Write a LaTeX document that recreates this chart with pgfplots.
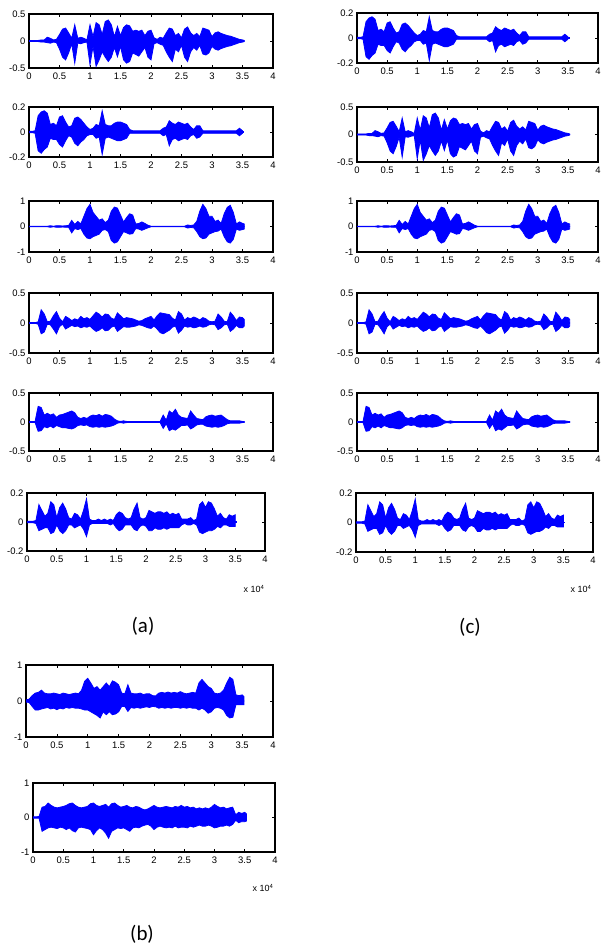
\documentclass[border=0pt]{standalone}
\usepackage{pgfplots}
\pgfplotsset{compat=1.18}
\usepackage{pgfplotstable}
\usepackage{fontspec}
\setmainfont{Liberation Sans}
\newfontfamily\capfont{Carlito}

% envelope of each waveform: x (x 10^4 samples), upper and lower excursion
\pgfplotstableread{
x hi lo
0.00 0.01 -0.01
0.05 0.01 -0.01
0.10 0.01 -0.01
0.15 0.01 -0.01
0.20 0.02 -0.02
0.25 0.02 -0.02
0.30 0.07 -0.03
0.35 0.05 -0.04
0.40 0.02 -0.02
0.45 0.03 -0.03
0.50 0.12 -0.15
0.55 0.22 -0.30
0.60 0.24 -0.35
0.65 0.15 -0.22
0.70 0.05 -0.05
0.75 0.30 -0.41
0.80 0.05 -0.04
0.85 0.07 -0.05
0.90 0.05 -0.03
0.95 0.02 -0.02
1.00 0.30 -0.44
1.05 0.08 -0.10
1.10 0.34 -0.47
1.15 0.30 -0.35
1.20 0.12 -0.20
1.25 0.36 -0.30
1.30 0.39 -0.38
1.35 0.30 -0.30
1.40 0.08 -0.12
1.45 0.27 -0.29
1.50 0.10 -0.10
1.55 0.25 -0.35
1.60 0.30 -0.41
1.65 0.28 -0.38
1.70 0.18 -0.22
1.75 0.20 -0.25
1.80 0.18 -0.28
1.85 0.20 -0.20
1.90 0.10 -0.12
1.95 0.18 -0.30
2.00 0.20 -0.35
2.05 0.06 -0.05
2.10 0.03 -0.03
2.15 0.07 -0.06
2.20 0.05 -0.08
2.25 0.15 -0.20
2.30 0.24 -0.30
2.35 0.22 -0.38
2.40 0.10 -0.15
2.45 0.14 -0.20
2.50 0.06 -0.08
2.55 0.22 -0.30
2.60 0.26 -0.38
2.65 0.15 -0.20
2.70 0.10 -0.12
2.75 0.14 -0.17
2.80 0.08 -0.08
2.85 0.24 -0.24
2.90 0.22 -0.26
2.95 0.20 -0.22
3.00 0.08 -0.10
3.05 0.15 -0.15
3.10 0.17 -0.17
3.15 0.14 -0.14
3.20 0.12 -0.12
3.25 0.10 -0.10
3.30 0.09 -0.09
3.35 0.07 -0.07
3.40 0.05 -0.05
3.45 0.03 -0.03
3.50 0.02 -0.02
3.53 0.01 -0.01
}\dA

\pgfplotstableread{
x hi lo
0.00 0.005 -0.005
0.05 0.005 -0.005
0.10 0.01 -0.01
0.15 0.13 -0.15
0.20 0.16 -0.17
0.25 0.17 -0.14
0.30 0.15 -0.12
0.35 0.06 -0.05
0.40 0.07 -0.06
0.45 0.05 -0.06
0.50 0.12 -0.10
0.55 0.13 -0.12
0.60 0.08 -0.07
0.65 0.04 -0.03
0.70 0.05 -0.04
0.75 0.11 -0.09
0.80 0.12 -0.11
0.85 0.10 -0.08
0.90 0.07 -0.06
0.95 0.04 -0.03
1.00 0.02 -0.02
1.05 0.03 -0.02
1.10 0.06 -0.05
1.15 0.05 -0.04
1.20 0.17 -0.18
1.25 0.06 -0.05
1.30 0.05 -0.04
1.35 0.05 -0.05
1.40 0.07 -0.06
1.45 0.08 -0.07
1.50 0.08 -0.07
1.55 0.07 -0.06
1.60 0.06 -0.05
1.65 0.02 -0.01
1.70 0.01 -0.01
1.75 0.01 -0.01
1.80 0.01 -0.01
1.85 0.01 -0.01
1.90 0.01 -0.01
1.95 0.01 -0.01
2.00 0.01 -0.01
2.05 0.01 -0.01
2.10 0.01 -0.01
2.15 0.01 -0.01
2.20 0.03 -0.03
2.25 0.04 -0.02
2.30 0.09 -0.11
2.35 0.07 -0.06
2.40 0.06 -0.05
2.45 0.08 -0.07
2.50 0.07 -0.06
2.55 0.06 -0.05
2.60 0.07 -0.06
2.65 0.04 -0.03
2.70 0.02 -0.02
2.75 0.05 -0.05
2.80 0.05 -0.04
2.85 0.01 -0.01
2.90 0.01 -0.01
2.95 0.01 -0.01
3.00 0.01 -0.01
3.05 0.01 -0.01
3.10 0.01 -0.01
3.15 0.01 -0.01
3.20 0.01 -0.01
3.25 0.01 -0.01
3.30 0.01 -0.01
3.35 0.01 -0.01
3.40 0.01 -0.01
3.45 0.03 -0.03
3.50 0.01 -0.01
}\dB

\pgfplotstableread{
x hi lo
0.00 0.01 -0.01
0.05 0.01 -0.01
0.10 0.01 -0.01
0.15 0.01 -0.01
0.20 0.01 -0.01
0.25 0.01 -0.01
0.30 0.01 -0.01
0.35 0.03 -0.03
0.40 0.01 -0.01
0.45 0.03 -0.03
0.50 0.03 -0.03
0.55 0.02 -0.02
0.60 0.03 -0.03
0.65 0.04 -0.03
0.70 0.24 -0.25
0.75 0.08 -0.08
0.80 0.20 -0.12
0.85 0.10 -0.08
0.90 0.40 -0.30
0.95 0.70 -0.45
1.00 0.87 -0.48
1.05 0.55 -0.40
1.10 0.40 -0.35
1.15 0.25 -0.30
1.20 0.30 -0.15
1.25 0.15 -0.12
1.30 0.25 -0.20
1.35 0.60 -0.55
1.40 0.76 -0.65
1.45 0.72 -0.60
1.50 0.45 -0.40
1.55 0.18 -0.20
1.60 0.35 -0.25
1.65 0.50 -0.30
1.70 0.45 -0.28
1.75 0.10 -0.08
1.80 0.12 -0.10
1.85 0.18 -0.15
1.90 0.12 -0.10
1.95 0.05 -0.05
2.00 0.01 -0.01
2.05 0.01 -0.01
2.10 0.01 -0.01
2.15 0.01 -0.01
2.20 0.01 -0.01
2.25 0.01 -0.01
2.30 0.01 -0.01
2.35 0.01 -0.01
2.40 0.01 -0.01
2.45 0.01 -0.01
2.50 0.01 -0.01
2.55 0.01 -0.01
2.60 0.06 -0.06
2.65 0.04 -0.04
2.70 0.06 -0.05
2.75 0.20 -0.20
2.80 0.60 -0.40
2.85 0.87 -0.48
2.90 0.70 -0.45
2.95 0.40 -0.30
3.00 0.40 -0.25
3.05 0.20 -0.20
3.10 0.25 -0.18
3.15 0.12 -0.10
3.20 0.50 -0.40
3.25 0.75 -0.60
3.30 0.83 -0.65
3.35 0.55 -0.50
3.40 0.10 -0.10
3.45 0.18 -0.15
3.50 0.12 -0.12
3.53 0.10 -0.10
}\dC

\pgfplotstableread{
x hi lo
0.00 0.005 -0.005
0.05 0.005 -0.005
0.10 0.005 -0.005
0.15 0.02 -0.02
0.20 0.22 -0.18
0.25 0.15 -0.15
0.30 0.02 -0.02
0.35 0.03 -0.03
0.40 0.12 -0.10
0.45 0.19 -0.18
0.50 0.08 -0.06
0.55 0.02 -0.02
0.60 0.11 -0.10
0.65 0.08 -0.07
0.70 0.04 -0.04
0.75 0.07 -0.06
0.80 0.05 -0.05
0.85 0.11 -0.08
0.90 0.07 -0.06
0.95 0.09 -0.07
1.00 0.06 -0.05
1.05 0.12 -0.10
1.10 0.18 -0.14
1.15 0.15 -0.12
1.20 0.10 -0.08
1.25 0.15 -0.13
1.30 0.14 -0.12
1.35 0.08 -0.07
1.40 0.06 -0.05
1.45 0.17 -0.14
1.50 0.12 -0.10
1.55 0.07 -0.06
1.60 0.09 -0.07
1.65 0.08 -0.07
1.70 0.07 -0.06
1.75 0.05 -0.05
1.80 0.03 -0.03
1.85 0.04 -0.04
1.90 0.07 -0.06
1.95 0.09 -0.08
2.00 0.11 -0.09
2.05 0.05 -0.05
2.10 0.12 -0.10
2.15 0.17 -0.16
2.20 0.16 -0.18
2.25 0.15 -0.15
2.30 0.14 -0.12
2.35 0.08 -0.07
2.40 0.05 -0.05
2.45 0.19 -0.17
2.50 0.15 -0.12
2.55 0.05 -0.05
2.60 0.09 -0.07
2.65 0.07 -0.06
2.70 0.10 -0.08
2.75 0.08 -0.07
2.80 0.05 -0.05
2.85 0.09 -0.07
2.90 0.07 -0.06
2.95 0.03 -0.03
3.00 0.02 -0.02
3.05 0.03 -0.03
3.10 0.15 -0.11
3.15 0.10 -0.08
3.20 0.03 -0.03
3.25 0.02 -0.02
3.30 0.18 -0.14
3.35 0.12 -0.10
3.40 0.04 -0.04
3.45 0.10 -0.08
3.50 0.09 -0.08
3.53 0.06 -0.05
}\dD

\pgfplotstableread{
x hi lo
0.00 0.005 -0.005
0.05 0.005 -0.005
0.10 0.01 -0.01
0.15 0.27 -0.16
0.20 0.25 -0.15
0.25 0.12 -0.08
0.30 0.15 -0.10
0.35 0.12 -0.07
0.40 0.14 -0.10
0.45 0.08 -0.06
0.50 0.12 -0.08
0.55 0.13 -0.10
0.60 0.15 -0.10
0.65 0.17 -0.11
0.70 0.19 -0.12
0.75 0.16 -0.10
0.80 0.08 -0.06
0.85 0.06 -0.05
0.90 0.08 -0.06
0.95 0.06 -0.05
1.00 0.10 -0.08
1.05 0.12 -0.09
1.10 0.11 -0.08
1.15 0.13 -0.09
1.20 0.10 -0.08
1.25 0.13 -0.09
1.30 0.12 -0.08
1.35 0.10 -0.07
1.40 0.05 -0.05
1.45 0.02 -0.02
1.50 0.01 -0.01
1.55 0.02 -0.02
1.60 0.01 -0.01
1.65 0.01 -0.01
1.70 0.01 -0.01
1.75 0.01 -0.01
1.80 0.01 -0.01
1.85 0.01 -0.01
1.90 0.01 -0.01
1.95 0.01 -0.01
2.00 0.01 -0.01
2.05 0.01 -0.01
2.10 0.01 -0.01
2.15 0.01 -0.01
2.20 0.12 -0.11
2.25 0.03 -0.03
2.30 0.19 -0.15
2.35 0.15 -0.12
2.40 0.22 -0.14
2.45 0.12 -0.10
2.50 0.08 -0.06
2.55 0.07 -0.06
2.60 0.06 -0.05
2.65 0.19 -0.12
2.70 0.12 -0.09
2.75 0.06 -0.05
2.80 0.05 -0.04
2.85 0.04 -0.04
2.90 0.09 -0.07
2.95 0.11 -0.08
3.00 0.12 -0.09
3.05 0.10 -0.08
3.10 0.11 -0.09
3.15 0.12 -0.08
3.20 0.08 -0.06
3.25 0.04 -0.03
3.30 0.02 -0.02
3.35 0.02 -0.02
3.40 0.02 -0.02
3.45 0.02 -0.02
3.50 0.01 -0.01
3.53 0.01 -0.01
}\dE

\pgfplotstableread{
x hi lo
0.00 0.005 -0.005
0.05 0.005 -0.005
0.10 0.005 -0.005
0.15 0.01 -0.01
0.20 0.12 -0.06
0.25 0.08 -0.05
0.30 0.04 -0.04
0.35 0.06 -0.04
0.40 0.14 -0.08
0.45 0.12 -0.07
0.50 0.03 -0.02
0.55 0.10 -0.06
0.60 0.13 -0.08
0.65 0.09 -0.06
0.70 0.03 -0.02
0.75 0.02 -0.02
0.80 0.06 -0.04
0.85 0.05 -0.03
0.90 0.02 -0.02
0.95 0.08 -0.05
1.00 0.16 -0.10
1.05 0.02 -0.02
1.10 0.01 -0.01
1.15 0.01 -0.01
1.20 0.02 -0.01
1.25 0.01 -0.01
1.30 0.02 -0.01
1.35 0.01 -0.01
1.40 0.02 -0.02
1.45 0.01 -0.01
1.50 0.05 -0.04
1.55 0.07 -0.06
1.60 0.06 -0.05
1.65 0.03 -0.02
1.70 0.02 -0.02
1.75 0.03 -0.02
1.80 0.09 -0.05
1.85 0.13 -0.06
1.90 0.03 -0.03
1.95 0.02 -0.02
2.00 0.03 -0.03
2.05 0.08 -0.06
2.10 0.07 -0.06
2.15 0.06 -0.04
2.20 0.07 -0.05
2.25 0.07 -0.05
2.30 0.06 -0.04
2.35 0.07 -0.05
2.40 0.05 -0.04
2.45 0.06 -0.04
2.50 0.05 -0.04
2.55 0.06 -0.04
2.60 0.02 -0.02
2.65 0.02 -0.01
2.70 0.02 -0.02
2.75 0.03 -0.02
2.80 0.01 -0.01
2.85 0.02 -0.02
2.90 0.12 -0.07
2.95 0.14 -0.08
3.00 0.10 -0.07
3.05 0.14 -0.06
3.10 0.13 -0.06
3.15 0.09 -0.05
3.20 0.04 -0.03
3.25 0.06 -0.04
3.30 0.03 -0.02
3.35 0.02 -0.02
3.40 0.05 -0.03
3.45 0.04 -0.03
3.50 0.05 -0.03
}\dF

\pgfplotstableread{
x hi lo
0.00 0.03 -0.03
0.05 0.05 -0.04
0.10 0.15 -0.15
0.15 0.22 -0.25
0.20 0.24 -0.25
0.25 0.30 -0.22
0.30 0.22 -0.20
0.35 0.20 -0.18
0.40 0.20 -0.22
0.45 0.22 -0.20
0.50 0.20 -0.24
0.55 0.18 -0.20
0.60 0.22 -0.22
0.65 0.20 -0.18
0.70 0.18 -0.20
0.75 0.20 -0.18
0.80 0.22 -0.20
0.85 0.20 -0.20
0.90 0.30 -0.22
0.95 0.55 -0.25
1.00 0.63 -0.25
1.05 0.50 -0.30
1.10 0.35 -0.35
1.15 0.40 -0.40
1.20 0.30 -0.47
1.25 0.40 -0.30
1.30 0.50 -0.38
1.35 0.40 -0.30
1.40 0.56 -0.38
1.45 0.52 -0.36
1.50 0.45 -0.30
1.55 0.22 -0.15
1.60 0.20 -0.15
1.65 0.45 -0.29
1.70 0.22 -0.18
1.75 0.20 -0.20
1.80 0.20 -0.18
1.85 0.22 -0.20
1.90 0.18 -0.18
1.95 0.20 -0.16
2.00 0.20 -0.18
2.05 0.15 -0.15
2.10 0.14 -0.16
2.15 0.22 -0.20
2.20 0.24 -0.18
2.25 0.22 -0.20
2.30 0.25 -0.18
2.35 0.22 -0.20
2.40 0.24 -0.18
2.45 0.22 -0.18
2.50 0.26 -0.20
2.55 0.22 -0.18
2.60 0.20 -0.20
2.65 0.22 -0.18
2.70 0.24 -0.20
2.75 0.22 -0.20
2.80 0.50 -0.25
2.85 0.60 -0.20
2.90 0.50 -0.25
2.95 0.40 -0.34
3.00 0.35 -0.30
3.05 0.22 -0.20
3.10 0.20 -0.18
3.15 0.22 -0.20
3.20 0.30 -0.25
3.25 0.50 -0.40
3.30 0.66 -0.47
3.35 0.60 -0.45
3.40 0.17 -0.10
3.45 0.15 -0.10
3.50 0.17 -0.10
3.53 0.12 -0.10
}\dG

\pgfplotstableread{
x hi lo
0.00 0.02 -0.02
0.05 0.02 -0.02
0.10 0.03 -0.02
0.15 0.30 -0.40
0.20 0.32 -0.35
0.25 0.42 -0.30
0.30 0.35 -0.28
0.35 0.30 -0.30
0.40 0.28 -0.32
0.45 0.30 -0.28
0.50 0.32 -0.30
0.55 0.35 -0.35
0.60 0.40 -0.30
0.65 0.42 -0.38
0.70 0.35 -0.42
0.75 0.30 -0.30
0.80 0.28 -0.28
0.85 0.30 -0.30
0.90 0.32 -0.32
0.95 0.40 -0.35
1.00 0.42 -0.50
1.05 0.35 -0.38
1.10 0.32 -0.30
1.15 0.35 -0.35
1.20 0.38 -0.45
1.25 0.30 -0.60
1.30 0.40 -0.40
1.35 0.42 -0.35
1.40 0.35 -0.30
1.45 0.30 -0.32
1.50 0.32 -0.30
1.55 0.35 -0.35
1.60 0.30 -0.40
1.65 0.28 -0.30
1.70 0.32 -0.28
1.75 0.30 -0.30
1.80 0.25 -0.25
1.85 0.22 -0.22
1.90 0.25 -0.20
1.95 0.30 -0.25
2.00 0.35 -0.35
2.05 0.30 -0.28
2.10 0.28 -0.25
2.15 0.30 -0.28
2.20 0.32 -0.30
2.25 0.30 -0.28
2.30 0.28 -0.30
2.35 0.32 -0.25
2.40 0.30 -0.30
2.45 0.35 -0.28
2.50 0.30 -0.28
2.55 0.32 -0.30
2.60 0.28 -0.25
2.65 0.30 -0.28
2.70 0.25 -0.25
2.75 0.28 -0.22
2.80 0.25 -0.25
2.85 0.28 -0.25
2.90 0.25 -0.22
2.95 0.30 -0.25
3.00 0.38 -0.30
3.05 0.32 -0.28
3.10 0.28 -0.25
3.15 0.30 -0.25
3.20 0.25 -0.22
3.25 0.28 -0.25
3.30 0.30 -0.20
3.35 0.08 -0.08
3.40 0.15 -0.15
3.45 0.12 -0.12
3.50 0.15 -0.12
3.53 0.10 -0.10
}\dH

\pgfplotsset{
  wave/.style={
    scale only axis, anchor=north west,
    xmin=0, xmax=4,
    xtick={0,0.5,1,1.5,2,2.5,3,3.5,4},
    xticklabels={0,0.5,1,1.5,2,2.5,3,3.5,4},
    tick align=inside, major tick length=3bp,
    axis line style={line width=1.1bp},
    every tick/.append style={line width=0.6bp, black},
    tick label style={font=\fontsize{9.5}{10}\selectfont},
    xticklabel style={yshift=-1bp},
  },
  edge/.style={blue, fill=blue, line width=0.8bp, mark=none},
}

% #1 left, #2 top, #3 width, #4 height (all bp), #5 y limit, #6 table
\newcommand{\wave}[6]{%
  \begin{axis}[wave, at={(#1bp,-#2bp)}, width=#3bp, height=#4bp,
      ymin=-#5, ymax=#5, ytick={-#5,0,#5}, yticklabels={-#5,0,#5}]
    \addplot[edge] table[x=x, y=hi] {#6} \closedcycle;
    \addplot[edge] table[x=x, y=lo] {#6} \closedcycle;
    \addplot[blue, line width=1.2bp] coordinates {(0,0) (3.53,0)};
  \end{axis}}

\begin{document}
\begin{tikzpicture}
\useasboundingbox (0,0) rectangle (602bp,-946bp);
% (a)
\wave{29}{14}{244}{54}{0.5}{\dA}
\wave{29}{107}{244}{50}{0.2}{\dB}
\wave{29}{201}{244}{51}{1}{\dC}
\wave{29}{293}{244}{60}{0.5}{\dD}
\wave{29}{393}{244}{58}{0.5}{\dE}
\wave{27}{493}{238}{58}{0.2}{\dF}
% (c)
\wave{357}{13}{241}{50}{0.2}{\dB}
\wave{357}{107}{241}{55}{0.5}{\dA}
\wave{357}{201}{241}{51}{1}{\dC}
\wave{357}{293}{241}{60}{0.5}{\dD}
\wave{357}{393}{241}{58}{0.5}{\dE}
\wave{356}{493}{237}{59}{0.2}{\dF}
% (b)
\wave{26}{665}{247}{72}{1}{\dG}
\wave{33}{783}{242}{69}{1}{\dH}

\node[font=\fontsize{9}{10}\selectfont] at (254bp,-589bp) {x 10\textsuperscript{4}};
\node[font=\fontsize{9}{10}\selectfont] at (581bp,-589bp) {x 10\textsuperscript{4}};
\node[font=\fontsize{9}{10}\selectfont] at (263bp,-888bp) {x 10\textsuperscript{4}};
\node[font=\capfont\fontsize{21}{24}\selectfont] at (143bp,-626bp) {(a)};
\node[font=\capfont\fontsize{21}{24}\selectfont] at (470bp,-627bp) {(c)};
\node[font=\capfont\fontsize{21}{24}\selectfont] at (142bp,-934bp) {(b)};
\end{tikzpicture}
\end{document}
